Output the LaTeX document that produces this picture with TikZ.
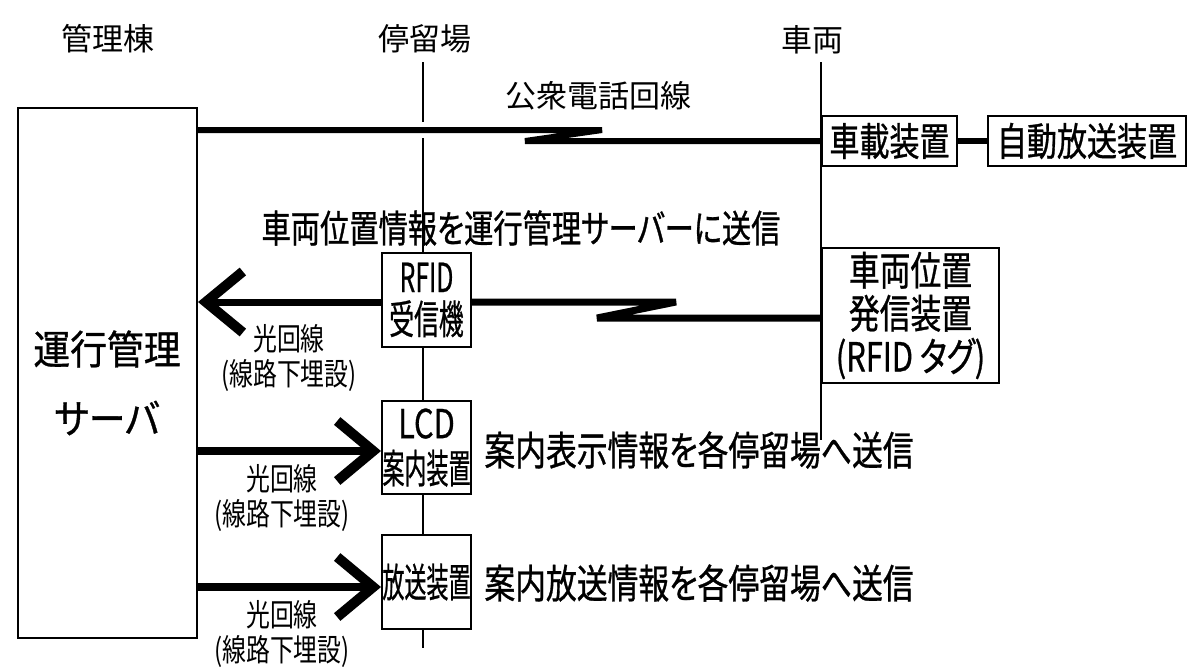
\documentclass[tikz,border=0pt]{standalone}
\usepackage{fontspec}
\newfontfamily\jpN[RawFeature=+palt]{Noto Sans CJK JP}
\newfontfamily\jpS[FakeStretch=0.77,RawFeature=+palt]{Noto Sans CJK JP}
\newfontfamily\jpSB[FakeStretch=0.77,FakeBold=0.8,RawFeature=+palt]{Noto Sans CJK JP}
\newfontfamily\jpM[FakeStretch=0.92,FakeBold=0.8,RawFeature=+palt]{Noto Sans CJK JP}
\newfontfamily\jpT[FakeStretch=0.55,FakeBold=0.6,RawFeature=+palt]{Noto Sans CJK JP}
\newfontfamily\jpU[FakeStretch=0.62,FakeBold=0.6,RawFeature=+palt]{Noto Sans CJK JP}
\newfontfamily\jpL[FakeStretch=0.77,FakeBold=0.6,RawFeature=+palt]{Noto Sans CJK JP}
\usetikzlibrary{arrows.meta}
\begin{document}
\begin{tikzpicture}[x=0.5pt,y=-0.5pt,
  box/.style={draw, line width=1pt, fill=white, inner sep=0pt, align=center},
  vline/.style={line width=1pt},
  phone/.style={line width=3pt, line join=miter},
  fibre/.style={line width=4pt, -{Straight Barb[length=18pt,width=30pt,line width=5pt]}},
  hdr/.style={font=\jpN\fontsize{15.5pt}{18pt}\selectfont},
  lbl/.style={font=\jpS\fontsize{15.5pt}{17.5pt}\selectfont, align=center},
  big/.style={font=\jpSB\fontsize{20pt}{22pt}\selectfont},
  boxtxt/.style={font=\jpSB\fontsize{19.5pt}{21.5pt}\selectfont},
]
\useasboundingbox (0,0) rectangle (1200,670);
\fill[white] (0,0) rectangle (1200,670);

% headers
\node[hdr] (hA) at (108,39) {管理棟};
\node[hdr] (hB) at (425,39) {停留場};
\node[hdr] (hC) at (812,40) {車両};

% vertical lines
\coordinate (sTop) at (423,62);
\coordinate (sBot) at (423,648);
\coordinate (vTop) at (821,62);
\coordinate (vBot) at (821,440);
\draw[vline] (sTop) -- (sBot);
\draw[vline] (vTop) -- (vBot);

% server
\node[box, minimum width=89.5pt, minimum height=265pt] (srv) at (107.5,373) {};
\node[font=\jpM\fontsize{20pt}{22pt}\selectfont] (srvA) at (107,349) {運行管理};
\node[font=\jpM\fontsize{20pt}{22pt}\selectfont] (srvB) at (107,418) {サーバ};

% vehicle side
\node[box, boxtxt, minimum width=67.5pt, minimum height=25pt] (car) at (889.5,141) {車載装置};
\node[box, boxtxt, minimum width=99pt, minimum height=25pt] (auto) at (1087,141) {自動放送装置};
\node[box, font=\jpSB\fontsize{20pt}{21.5pt}\selectfont, minimum width=88.5pt, minimum height=67.5pt] (tag) at (910.5,315.5) {車両位置\\発信装置\\(RFID タグ)};

% stop side
\node[box, font=\jpU\fontsize{20pt}{21pt}\selectfont, minimum width=44.5pt, minimum height=47pt] (rfid) at (426.5,300) {RFID\\受信機};
\node[box, font=\jpT\fontsize{20pt}{22.5pt}\selectfont, minimum width=44.5pt, minimum height=46.5pt] (lcd) at (426.5,447.5) {{\jpL LCD}\\案内装置};
\node[box, font=\jpT\fontsize{20pt}{22pt}\selectfont, minimum width=44.5pt, minimum height=47pt] (hoso) at (426.5,582) {放送装置};

% public telephone line
\node[hdr] (telL) at (598,96) {公衆電話回線};
\coordinate (z1a) at (602,130);
\coordinate (z1b) at (525,141);
\fill[white] (416,122) rectangle (430,138);
\draw[phone] (srv.east |- z1a) -- (z1a) -- (z1b) -- (car.west |- z1b);
\draw[phone] (car.east) -- (auto.west);

% vehicle position
\node[font=\jpSB\fontsize{19pt}{21pt}\selectfont] (posT) at (521,228) {車両位置情報を運行管理サーバーに送信};
\coordinate (z2a) at (676,302);
\coordinate (z2b) at (597,318);
\draw[line width=3.5pt] (rfid.east |- z2a) -- (z2a) -- (z2b) -- (tag.west |- z2b);
\draw[line width=3.5pt, -{Straight Barb[length=18.5pt,width=30.5pt,line width=5pt]}] (rfid.west |- z2a) -- (srv.east |- z2a);
\node[lbl] (f1) at (289,358) {光回線\\(線路下埋設)};

% LCD
\coordinate (yL) at (0,451);
\draw[fibre] (srv.east |- yL) -- (lcd.west |- yL);
\node[lbl] (f2) at (282,498) {光回線\\(線路下埋設)};
\node[big, anchor=west, inner sep=0pt] (lcdT) at (484,450) {案内表示情報を各停留場へ送信};

% broadcast
\coordinate (yH) at (0,587);
\draw[fibre] (srv.east |- yH) -- (hoso.west |- yH);
\node[lbl] (f3) at (282,634) {光回線\\(線路下埋設)};
\node[big, anchor=west, inner sep=0pt] (hosoT) at (484,583) {案内放送情報を各停留場へ送信};
\end{tikzpicture}
\end{document}
